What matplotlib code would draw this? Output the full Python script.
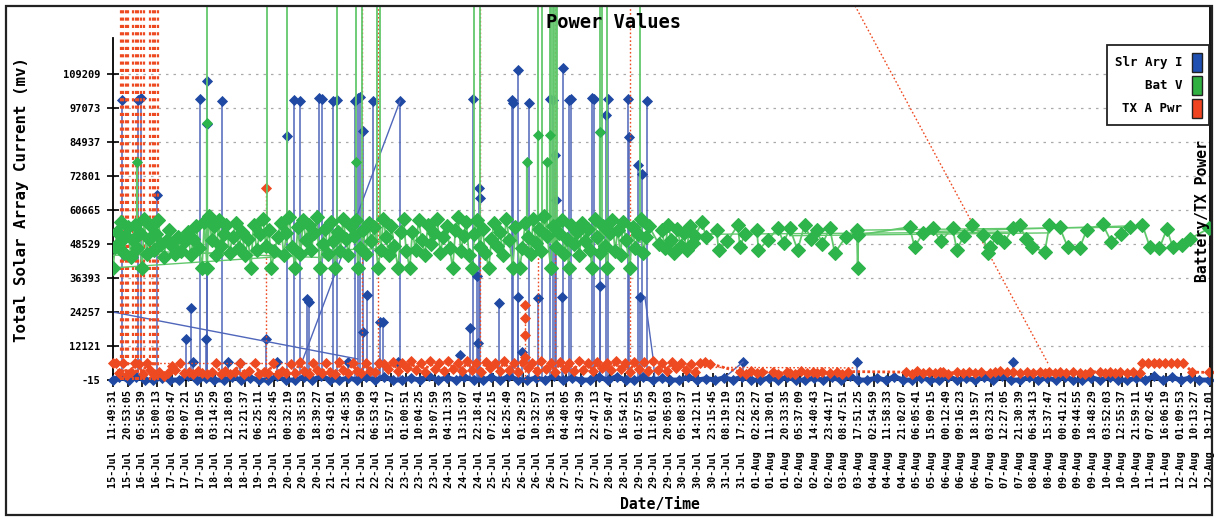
import numpy as np
import pandas as pd
import matplotlib
matplotlib.use('Agg')
import matplotlib.pyplot as plt
import matplotlib.dates as mdates
from matplotlib.patches import Patch, Rectangle

MONO = 'DejaVu Sans Mono'
BLUE = '#1f49a3'
BLUE_LINE = '#4f66ba'
GREEN = '#2db44a'
GREEN_LINE = '#62c86c'
RED = '#ee4a22'

# x positions are in "July day" units (1-Aug = 32)
# ── Slr Ary I (blue) ─────────────────────────────────────
slr_base_days = [
    15.49, 15.66, 15.90, 16.08, 16.33, 16.52, 16.77, 16.96, 17.20, 17.43,
    17.65, 17.88, 18.10, 18.35, 18.57, 18.80, 19.03, 19.27, 19.49, 19.72,
    19.95, 20.18, 20.42, 20.64, 20.87, 21.10, 21.33, 21.57, 21.80, 22.02,
    22.26, 22.49, 22.71, 22.95, 23.18, 23.41, 23.64, 23.87, 24.11, 24.34,
    24.56, 24.80, 25.03, 25.26, 25.49, 25.72, 25.95, 26.18, 26.42, 26.64,
    26.88, 27.10, 27.34, 27.57, 27.80, 28.03, 28.26, 28.49, 28.73, 28.95,
    29.18, 29.42, 29.65, 29.88, 30.11, 30.34, 30.57, 30.80, 31.04, 31.26,
    31.50, 31.73, 31.96, 32.19, 32.42, 32.65, 32.88, 33.12, 33.35, 33.58,
    33.81, 34.04, 34.27, 34.50, 34.73, 34.96, 35.20, 35.43, 35.66, 35.89,
    36.12, 36.35, 36.58, 36.81, 37.05, 37.28, 37.51, 37.74, 37.97, 38.20,
    38.43, 38.66, 38.89, 39.13, 39.36, 39.59, 39.82, 40.05, 40.28, 40.51,
    40.74, 40.97, 41.21, 41.44, 41.67, 41.90, 42.13, 42.36, 42.59, 42.82,
    43.05, 43.29, 43.52, 43.79]
slr_base_vals = [
    -15, 900, -15, 1200, -15, -15, 700, -15, -15, 1500,
    -15, 600, -15, -15, 1100, -15, 800, -15, -15, 1300,
    -15, -15, 900, -15, 1400, -15, -15, 700, -15, 1000,
    -15, 1200, -15, -15, 600, -15, 1500, -15, 800, -15,
    1100, -15, -15, 900, -15, 1300, -15, -15, 700, -15,
    1400, -15, 800, -15, -15, 1000, -15, 1200, -15, -15,
    900, -15, 600, -15, -15, 1100, -15, 500, -15, 800,
    -15, 1200, -15, -15, 700, -15, 1000, -15, -15, 600,
    -15, 900, -15, 1300, -15, -15, 700, -15, 1100, -15,
    -15, 800, -15, -15, 1200, -15, 600, -15, 1000, -15,
    1400, -15, -15, 900, -15, 700, -15, 1200, -15, -15,
    800, -15, 1100, -15, -15, 600, -15, 1300, -15, 900,
    -15, 700, -15, -15]

slr_spike_days = [
    15.72, 16.14, 16.21, 16.63, 17.38, 17.50, 17.55, 17.74, 17.89, 17.92,
    17.93, 18.31, 18.45, 18.76, 19.44, 19.73, 19.98, 20.16, 20.32, 20.50,
    20.55, 20.81, 20.88, 21.17, 21.27, 21.56, 21.74, 21.82, 21.87, 21.94,
    21.95, 22.05, 22.20, 22.35, 22.38, 22.46, 22.85, 22.90, 24.44, 24.70,
    24.78, 24.88, 24.91, 24.93, 24.96, 25.45, 25.79, 25.81, 25.94, 25.95,
    26.05, 26.23, 26.46, 26.56, 26.77, 26.85, 26.90, 26.92, 27.08, 27.11,
    27.26, 27.31, 27.85, 27.91, 28.06, 28.07, 28.21, 28.26, 28.78, 28.81,
    29.04, 29.09, 29.14, 29.27, 31.75, 34.69, 38.71]
slr_spike_vals = [
    100000, 100000, 100500, 66000, 14600, 25700, 6400, 100300, 14600, 106700,
    91400, 99600, 6400, 6000, 14600, 6400, 87100, 100000, 99600, 28900,
    28000, 100700, 100300, 99600, 100000, 6400, 99600, 100700, 101000, 88900,
    17100, 30300, 99600, 6000, 20700, 20700, 6400, 99600, 9000, 18500,
    100300, 37100, 13200, 68500, 65000, 27500, 100000, 99000, 110700, 29600,
    10000, 98900, 29300, 58500, 100300, 100000, 80300, 64200, 29600, 111400,
    100000, 100300, 100700, 100300, 88500, 33500, 94600, 100300, 100300, 86700,
    76700, 29600, 73500, 99600, 6400, 6400, 6400]
SLR_FLOOR = -15

# out-of-order rows in the log show up as slanted lines
slr_stray_days = [[15.49, 21.80], [20.32, 22.90], [29.22, 29.43, 29.48], [31.20, 31.75]]
slr_stray_vals = [[24257, 7500], [4600, 99600], [29600, 7800, -15], [-15, 6400]]

# ── Bat V (green) ────────────────────────────────────────
bat_days = [
    15.49, 15.55, 15.60, 15.66, 15.71, 15.77, 15.83, 15.89, 15.95, 16.00,
    16.06, 16.12, 16.18, 16.24, 16.30, 16.36, 16.42, 16.48, 16.54, 16.60,
    16.66, 16.73, 16.80, 16.88, 16.95, 17.03, 17.10, 17.18, 17.26, 17.34,
    17.42, 17.50, 17.57, 17.64, 17.72, 17.79, 17.85, 17.92, 17.98, 18.04,
    18.10, 18.16, 18.22, 18.28, 18.35, 18.42, 18.50, 18.58, 18.66, 18.74,
    18.82, 18.90, 18.98, 19.05, 19.12, 19.20, 19.28, 19.36, 19.44, 19.52,
    19.58, 19.66, 19.74, 19.82, 19.90, 19.97, 20.04, 20.12, 20.19, 20.26,
    20.33, 20.40, 20.47, 20.54, 20.61, 20.68, 20.75, 20.83, 20.90, 20.97,
    21.04, 21.11, 21.18, 21.22, 21.29, 21.36, 21.43, 21.50, 21.57, 21.64,
    21.71, 21.77, 21.81, 21.88, 21.95, 22.02, 22.09, 22.16, 22.24, 22.33,
    22.40, 22.47, 22.54, 22.61, 22.68, 22.75, 22.85, 22.92, 22.99, 23.06,
    23.15, 23.22, 23.30, 23.38, 23.46, 23.54, 23.62, 23.70, 23.78, 23.86,
    23.94, 24.02, 24.10, 24.18, 24.26, 24.33, 24.40, 24.47, 24.54, 24.61,
    24.68, 24.75, 24.82, 24.89, 24.96, 25.03, 25.10, 25.19, 25.26, 25.33,
    25.40, 25.48, 25.56, 25.64, 25.72, 25.81, 25.88, 25.99, 26.06, 26.13,
    26.20, 26.27, 26.34, 26.41, 26.48, 26.55, 26.62, 26.70, 26.79, 26.86,
    26.93, 27.00, 27.07, 27.14, 27.21, 27.25, 27.32, 27.39, 27.46, 27.53,
    27.60, 27.67, 27.74, 27.81, 27.85, 27.92, 27.99, 28.06, 28.13, 28.20,
    28.24, 28.31, 28.38, 28.45, 28.52, 28.59, 28.66, 28.73, 28.83, 28.90,
    28.97, 29.04, 29.11, 29.18, 29.25, 29.32, 29.58, 29.66, 29.74, 29.82,
    29.90, 29.98, 30.06, 30.14, 30.22, 30.30, 30.38, 30.45, 30.52,
    30.69, 30.80, 31.07, 31.12, 31.35, 31.62, 31.67, 31.80, 32.11, 32.15,
    32.40, 32.65, 32.80, 32.96, 33.16, 33.34, 33.50, 33.65, 33.80, 33.99,
    34.12, 34.40, 34.69, 34.71, 34.73, 36.05, 36.18, 36.40, 36.65, 36.85,
    37.16, 37.27, 37.45, 37.65, 37.94, 38.07, 38.12, 38.30, 38.50, 38.71,
    38.89, 39.05, 39.20, 39.54, 39.66, 39.92, 40.13, 40.44, 40.62, 41.03,
    41.26, 41.50, 41.73, 42.06, 42.25, 42.50, 42.69, 42.84, 43.07, 43.30, 43.79]
bat_vals = [
    40000, 47500, 53000, 49000, 56500, 45500, 51500, 54500, 44000, 50000,
    55500, 47000, 52500, 40000, 57500, 45000, 50500, 55000, 46500, 52000,
    57000, 48500, 44000, 50000, 53500, 47500, 45000, 51000, 46000, 49500,
    53000, 44500, 50500, 55000, 47000, 40000, 56500, 40000, 58500, 50000,
    55000, 44500, 57000, 48000, 52000, 55500, 45500, 51000, 56000, 47000,
    53000, 44500, 50500, 40000, 55500, 46500, 52000, 57500, 48000, 53500,
    40000, 46000, 51000, 56000, 44500, 52500, 58000, 47500, 40000, 54500,
    45000, 57000, 50000, 55500, 46500, 52500, 58000, 40000, 48500, 54000,
    45000, 56500, 49500, 40000, 53000, 46000, 57500, 50500, 44500, 55000,
    51500, 57000, 40000, 47000, 53500, 45000, 56000, 49500, 54500, 40000,
    46500, 57500, 51000, 44500, 55000, 48000, 40000, 53000, 57500, 46000,
    40000, 53000, 46500, 57000, 50000, 44500, 55500, 48500, 52500, 57500,
    45500, 51000, 55000, 47000, 40000, 53500, 58000, 46000, 51500, 56500,
    44500, 40000, 52000, 57000, 47500, 54000, 45500, 40000, 50500, 56000,
    48000, 53000, 44500, 57500, 50000, 40000, 54500, 40000, 47000, 56000,
    51000, 45000, 57500, 49000, 54000, 46000, 58500, 51500, 40000, 55000,
    47500, 52500, 57000, 45000, 50500, 40000, 55500, 48500, 53000, 44500,
    56000, 49500, 54000, 46500, 40000, 57500, 51000, 45500, 55000, 48000,
    40000, 52500, 57000, 46000, 53500, 44500, 56500, 50000, 40000, 54500,
    47000, 52000, 57500, 45500, 51000, 55000, 48500, 53500, 47000, 55500,
    50000, 45500, 54000, 48000, 52500, 46500, 55000, 49000, 51500,
    56400, 51000, 53500, 46400, 49500, 55300, 47500, 52000, 53500, 46400,
    50000, 54250, 49000, 54250, 46400, 55300, 50500, 53500, 48500, 54250,
    45300, 51000, 53500, 39970, 51750, 54600, 47500, 52500, 54250, 49500,
    54250, 46400, 51500, 55300, 51750, 45300, 47500, 51000, 49250, 54250,
    55300, 50500, 47500, 45700, 55300, 54600, 47500, 47100, 53500, 55700,
    49250, 52000, 54600, 55300, 47500, 47100, 53900, 47500, 48200, 50500, 54250]

# readings far above the scale (lines leave the top of the chart)
bat_top_days = [17.92, 19.47, 19.98, 21.27, 21.76, 21.92, 22.30, 22.38, 24.80, 24.96, 26.46,
                26.56, 26.77, 26.80, 26.84, 26.88, 26.92, 26.95, 28.06, 28.11, 28.24, 29.09]
BAT_TOP = 200000
bat_mid_days = [16.11, 17.92, 21.76, 26.17, 26.46, 26.56, 26.69, 26.77, 28.06]
bat_mid_vals = [77800, 91700, 77800, 77800, 87500, 58200, 77800, 87500, 88500]
BAT_BASE = 49000

bat_stray_days = [[15.49, 20.30], [15.49, 22.85], [16.24, 21.30], [30.69, 38.71],
                  [32.96, 39.66], [34.73, 42.06], [36.65, 41.73]]
bat_stray_vals = [[40000, 44500], [44500, 47000], [46000, 43500], [52000, 52800],
                  [51500, 52500], [53500, 54600], [53000, 55000]]

# ── TX A Pwr (red) ───────────────────────────────────────
tx_days = [
    15.49, 15.58, 15.66, 15.75, 15.86, 15.97, 16.07, 16.16, 16.26, 16.36,
    16.45, 16.56, 16.68, 16.80, 16.92, 17.02, 17.09, 17.22, 17.33, 17.45,
    17.57, 17.69, 17.80, 17.92, 18.04, 18.15, 18.27, 18.39, 18.51, 18.63,
    18.77, 18.88, 19.00, 19.16, 19.27, 19.39, 19.50, 19.62, 19.74, 19.86,
    19.97, 20.09, 20.20, 20.31, 20.42, 20.54, 20.65, 20.76, 20.88, 20.99,
    21.10, 21.22, 21.33, 21.44, 21.56, 21.68, 21.79, 21.90, 22.02, 22.13,
    22.25, 22.37, 22.48, 22.60, 22.72, 22.84, 22.95, 23.07, 23.19, 23.31,
    23.43, 23.55, 23.67, 23.79, 23.91, 24.03, 24.15, 24.27, 24.39, 24.51,
    24.63, 24.75, 24.87, 24.99, 25.11, 25.23, 25.35, 25.47, 25.59, 25.71,
    25.83, 25.95, 26.07, 26.19, 26.31, 26.43, 26.55, 26.67, 26.79, 26.91,
    27.03, 27.15, 27.27, 27.39, 27.51, 27.63, 27.75, 27.87, 27.99, 28.11,
    28.23, 28.35, 28.47, 28.59, 28.71, 28.83, 28.95, 29.07, 29.19, 29.31,
    29.43, 29.55, 29.67, 29.79, 29.91, 30.03, 30.15, 30.27, 30.40, 30.52,
    30.64, 30.78, 30.90, 31.68, 31.82, 31.96, 32.10, 32.24, 32.52, 32.66,
    32.88, 32.96, 33.10, 33.25, 33.40, 33.55, 33.65, 33.80, 33.99, 34.17,
    34.30, 34.45, 35.97, 36.10, 36.25, 36.40, 36.55, 36.70, 36.83, 36.90,
    37.05, 37.27, 37.42, 37.58, 37.73, 37.90, 38.12, 38.25, 38.38, 38.56,
    38.71, 38.89, 39.07, 39.23, 39.41, 39.55, 39.66, 39.80, 39.92, 40.08,
    40.26, 40.44, 40.57, 40.70, 40.96, 41.10, 41.22, 41.36, 41.47, 41.65,
    41.81, 41.99, 42.06, 42.20, 42.35, 42.50, 42.65, 42.80, 42.95, 43.10,
    43.35, 43.79]
tx_vals = [
    6000, 6100, 2600, 5900, 1800, 2900, 6000, 5800, 2200, 6000,
    3400, 1900, 2800, 1500, 2600, 4900, 3600, 6000, 2400, 2900,
    2000, 3300, 2500, 2100, 3000, 6100, 2300, 3200, 2000, 2800,
    6000, 2300, 3100, 6100, 2100, 2900, 2400, 6000, 2200, 3300,
    2600, 5800, 2400, 6400, 3100, 2200, 6200, 3400, 2500, 6100,
    3000, 2300, 6300, 3600, 2600, 6000, 3100, 2400, 6200, 3300,
    2700, 6100, 5600, 3800, 6500, 3100, 6000, 4200, 6800, 3400,
    6200, 2900, 6600, 3800, 5900, 3100, 6900, 4000, 6100, 3300,
    6700, 3700, 6000, 2900, 6500, 4100, 6200, 3200, 6800, 3600,
    6000, 3000, 6400, 4200, 6100, 3300, 6700, 3900, 6000, 3000,
    6500, 4000, 6200, 3200, 6800, 3700, 6000, 3100, 6400, 4100,
    6200, 3400, 6600, 3800, 5900, 3000, 6500, 4000, 6300, 3300,
    6600, 3700, 6100, 3100, 6400, 4100, 6000, 3500, 5800, 2800,
    6100, 6400, 5800, 2800, 2300, 3100, 2600, 2900, 2700, 2300,
    3000, 2600, 2200, 3100, 2500, 2900, 2600, 3000, 2400, 2900,
    2300, 3000, 2800, 2300, 3100, 2600, 2900, 2400, 3000, 2700,
    2300, 2900, 2500, 3000, 2600, 2900, 2400, 2800, 3100, 2700,
    2900, 2500, 2800, 2600, 3000, 2500, 2900, 2400, 3000, 2600,
    2900, 2600, 2300, 3000, 2800, 2400, 2900, 2600, 3000, 2500,
    2900, 2600, 6000, 6100, 5900, 6000, 6100, 6000, 5900, 6100,
    2800, 2700]

tx_burst_days = [15.70, 15.76, 15.83, 15.89, 16.01, 16.08, 16.14, 16.21, 16.28,
                 16.45, 16.52, 16.58, 16.65]
tx_top_days = [21.92, 22.33, 24.96, 26.90, 28.83]
TX_TOP = 200000
tx_mid_days = [19.44, 26.12, 26.46]
tx_mid_vals = [68500, 26800, 44000]
tx_mark_days = [19.44, 26.12, 26.12, 26.12, 26.12]
tx_mark_vals = [68500, 26800, 22100, 16000, 8200]
TX_BASE = 3000

tx_stray_days = [[15.49, 23.10], [30.64, 34.66], [33.73, 39.62]]
tx_stray_vals = [[6000, 6000], [4500, 4300], [157000, 6000]]

y_ticks = [-15, 12121, 24257, 36393, 48529, 60665, 72801, 84937, 97073, 109209]
tick_times = pd.date_range('2009-07-15 11:49:31', '2009-08-12 19:17:01', periods=76)
tick_labels = [t.strftime('%d-%b  %H:%M:%S') for t in tick_times]

JUL0 = mdates.date2num(pd.Timestamp('2009-07-01'))


def to_num(days):
    return JUL0 + np.asarray(days, dtype=float) - 1


W, H = 1214, 517
fig = plt.figure(figsize=(W / 100, H / 100), dpi=100)
fig.patch.set_facecolor('white')
fig.add_artist(Rectangle((6 / W, 2 / H), 1206 / W, 509 / H, transform=fig.transFigure,
                         fill=False, ec='#222222', lw=1.6))
ax = fig.add_axes([113 / W, 137 / H, 1097 / W, 373 / H])

mk = dict(marker='D', ms=5, mew=0.6)

# blue
ax.vlines(to_num(slr_spike_days), SLR_FLOOR, slr_spike_vals, color=BLUE_LINE, lw=1.1, zorder=2)
ax.plot(to_num(slr_spike_days), slr_spike_vals, ls='none', color=BLUE, zorder=2, **mk)
for d, v in zip(slr_stray_days, slr_stray_vals):
    ax.plot(to_num(d), v, color=BLUE_LINE, lw=1, zorder=2)
ax.plot(to_num(slr_base_days), slr_base_vals, color=BLUE, lw=3.5, mfc=BLUE, mec=BLUE,
        zorder=3, clip_on=False, **mk)

# red
dots = (0, (1.2, 1.6))
ax.vlines(to_num(tx_burst_days), SLR_FLOOR, TX_TOP, color=RED, lw=1.6,
          linestyles=[(0, (1.4, 1.9))], zorder=3)
ax.vlines(to_num(tx_top_days), TX_BASE, TX_TOP, color=RED, lw=1, linestyles=[dots], zorder=3)
ax.vlines(to_num(tx_mid_days), SLR_FLOOR, tx_mid_vals, color=RED, lw=1, linestyles=[dots], zorder=3)
ax.plot(to_num(tx_mark_days), tx_mark_vals, ls='none', color=RED, zorder=3, **mk)
for d, v in zip(tx_stray_days, tx_stray_vals):
    ax.plot(to_num(d), v, color=RED, lw=1, ls=dots, zorder=3)
ax.plot(to_num(tx_days), tx_vals, color=RED, lw=2, ls=(0, (1, 0.8)), mfc=RED, mec=RED,
        zorder=4, clip_on=False, **mk)

# green
ax.vlines(to_num(bat_top_days), BAT_BASE, BAT_TOP, color=GREEN_LINE, lw=1.3, zorder=5)
ax.vlines(to_num(bat_mid_days), BAT_BASE, bat_mid_vals, color=GREEN_LINE, lw=1.6, zorder=5)
ax.plot(to_num(bat_mid_days), bat_mid_vals, ls='none', color=GREEN, zorder=5, **mk)
for d, v in zip(bat_stray_days, bat_stray_vals):
    ax.plot(to_num(d), v, color=GREEN_LINE, lw=1, zorder=5)
ax.plot(to_num(bat_days), bat_vals, color=GREEN_LINE, lw=1.3, mfc=GREEN, mec=GREEN,
        zorder=6, marker='D', ms=7.5, mew=0.8)

ax.set_xlim(mdates.date2num(tick_times[0]), mdates.date2num(tick_times[-1]))
ax.set_ylim(-15, 133150)
ax.set_yticks(y_ticks)
ax.set_yticklabels([str(v) for v in y_ticks], fontfamily=MONO, fontweight='bold', fontsize=7.5)
ax.set_xticks(mdates.date2num(tick_times))
ax.set_xticklabels(tick_labels, rotation=90, fontfamily=MONO, fontweight='bold', fontsize=7.3)
ax.tick_params(axis='y', direction='inout', length=9, width=1.2, pad=4.5)
ax.tick_params(axis='x', direction='inout', length=10, width=1.2, pad=2)
ax.yaxis.grid(True, ls=(0, (2, 4)), color='#aaaaaa', lw=0.9)
ax.set_axisbelow(True)
ax.spines['top'].set_visible(False)
ax.spines['left'].set_bounds(-15, 122000)
for s in ['left', 'bottom', 'right']:
    ax.spines[s].set_linewidth(1.3)

fig.text(614 / W, 1 - 23 / H, 'Power Values', ha='center', va='center',
         fontfamily=MONO, fontweight='bold', fontsize=13.5, zorder=1)
fig.text(22 / W, 1 - 200 / H, 'Total Solar Array Current (mv)', rotation=90,
         ha='center', va='center', fontfamily=MONO, fontweight='bold', fontsize=11.3)
fig.text(1203 / W, 1 - 211 / H, 'Battery/TX Power', rotation=90, ha='center', va='center',
         fontfamily=MONO, fontweight='bold', fontsize=10.6, zorder=10)
fig.text(660 / W, 1 - 505 / H, 'Date/Time', ha='center', va='center',
         fontfamily=MONO, fontweight='bold', fontsize=10.6)

handles = [Patch(facecolor='#1f4fb0', edgecolor='#222222', label='Slr Ary I'),
           Patch(facecolor='#2fb040', edgecolor='#222222', label='Bat V'),
           Patch(facecolor='#f04420', edgecolor='#222222', label='TX A Pwr')]
leg = ax.legend(handles=handles, loc='upper right', bbox_to_anchor=(1209 / W, 1 - 45 / H),
                bbox_transform=fig.transFigure, markerfirst=False, frameon=True,
                fancybox=False, edgecolor='#222222', framealpha=1, borderaxespad=0,
                handlelength=0.75, handleheight=2.0, labelspacing=0.3, borderpad=0.6,
                handletextpad=0.8, prop={'family': MONO, 'weight': 'bold', 'size': 9})
leg.get_frame().set_linewidth(1.3)
leg.set_zorder(20)

plt.savefig('out.png', dpi=100)
plt.close()
